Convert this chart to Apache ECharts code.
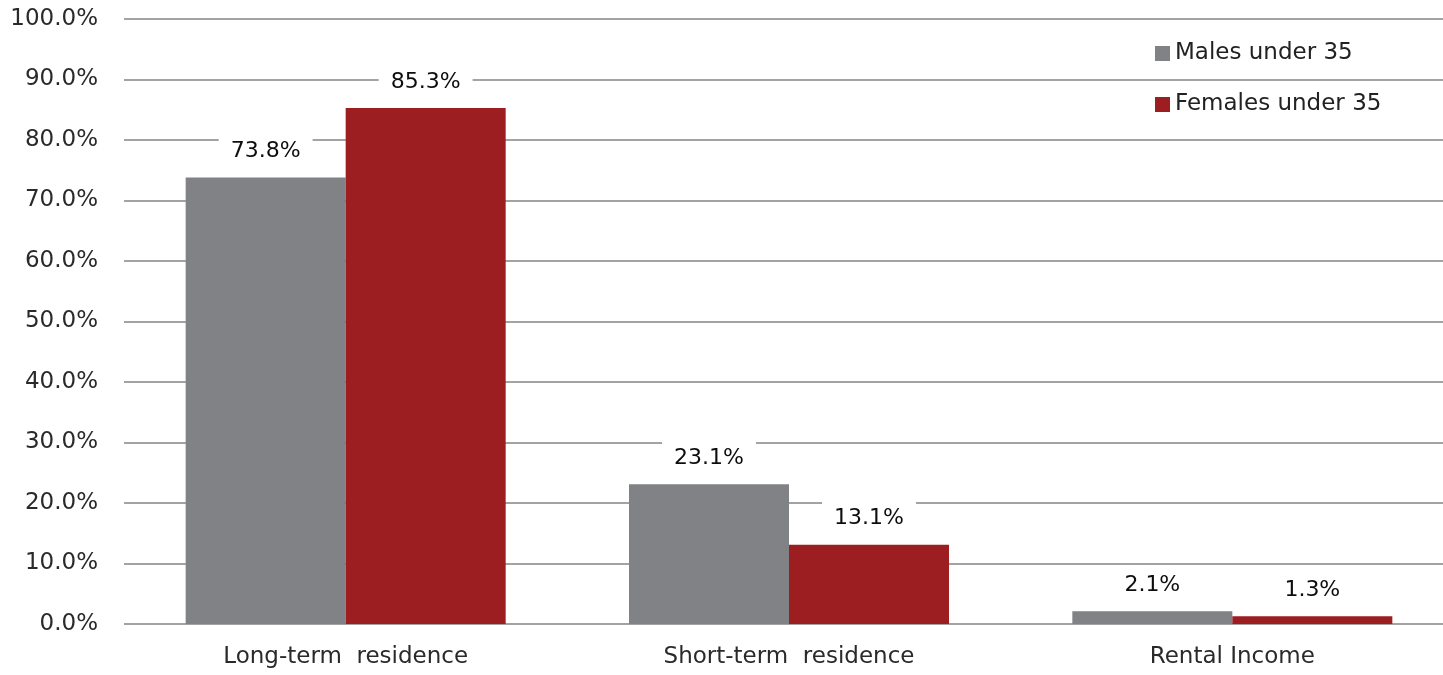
<!DOCTYPE html>
<html>
<head>
<meta charset="utf-8">
<script src="https://cdn.jsdelivr.net/npm/echarts@6/dist/echarts.min.js"></script>
<style>
  html, body { margin: 0; padding: 0; background: #ffffff; }
  #chart { width: 1443px; height: 675px; }
</style>
</head>
<body>
<div id="chart"></div>
<script>
// Purpose of home purchase, by gender (under 35)
const categories = ['Long-term  residence', 'Short-term  residence', 'Rental Income'];
const malesUnder35 = [73.8, 23.1, 2.1];
const femalesUnder35 = [85.3, 13.1, 1.3];
const seriesNames = ['Males under 35', 'Females under 35'];

const FONT = '"DejaVu Sans", "Liberation Sans", Arial, sans-serif';

const valueLabel = {
  show: true,
  position: 'top',
  distance: 11,
  formatter: p => p.value.toFixed(1) + '%',
  fontFamily: FONT,
  fontSize: 22,
  color: '#0d0d0d',
  backgroundColor: '#ffffff',
  padding: [6, 12, 4, 12]
};

const chart = echarts.init(document.getElementById('chart'), null, { renderer: 'canvas' });
chart.setOption({
  animation: false,
  backgroundColor: '#ffffff',
  grid: {
    left: 124, width: 1330, top: 19, bottom: 51,
    containLabel: false, outerBoundsMode: 'none'
  },
  legend: {
    orient: 'vertical',
    left: 1155,
    top: 42,
    padding: 0,
    itemWidth: 15,
    itemHeight: 15,
    itemGap: 28,
    icon: 'rect',
    textStyle: { fontFamily: FONT, fontSize: 23, color: '#222222' },
    data: seriesNames
  },
  xAxis: {
    type: 'category',
    data: categories,
    axisLine: { show: false },
    axisTick: { show: false },
    axisLabel: { fontFamily: FONT, fontSize: 23, color: '#2a2a2a', margin: 22 }
  },
  yAxis: {
    type: 'value',
    min: 0,
    max: 100,
    interval: 10,
    axisLine: { show: false },
    axisTick: { show: false },
    axisLabel: {
      fontFamily: FONT, fontSize: 23, color: '#2a2a2a', margin: 26,
      formatter: v => v.toFixed(1) + '%'
    },
    splitLine: { lineStyle: { color: '#a3a3a3', width: 2 } }
  },
  series: [
    {
      name: seriesNames[0],
      type: 'bar',
      data: malesUnder35,
      barWidth: 160,
      barGap: '0%',
      itemStyle: { color: '#808285' },
      label: valueLabel,
      z: 3
    },
    {
      name: seriesNames[1],
      type: 'bar',
      data: femalesUnder35,
      barWidth: 160,
      itemStyle: { color: '#9c1e21' },
      label: valueLabel,
      z: 3
    }
  ]
});
</script>
</body>
</html>
